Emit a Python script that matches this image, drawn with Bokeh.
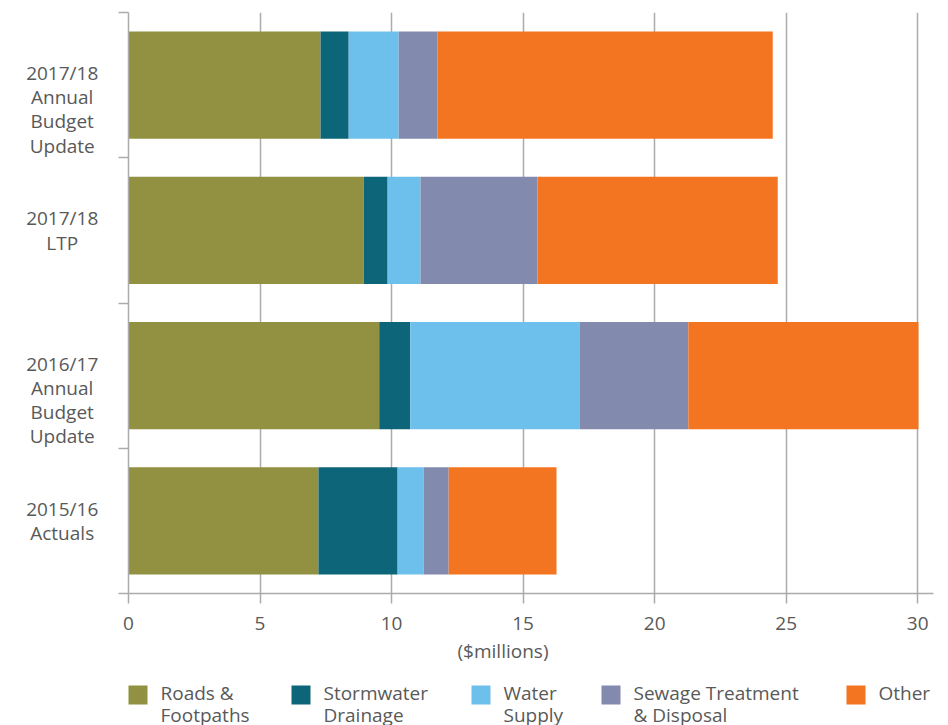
from bokeh.plotting import figure
from bokeh.layouts import row, column
from bokeh.models import ColumnDataSource, FixedTicker, Range1d, Title
from bokeh.core.properties import value
from bokeh.embed import file_html
from bokeh.resources import INLINE

# ---- data (top row first) ----
categories = ["2017/18\nAnnual\nBudget\nUpdate", "2017/18\nLTP",
              "2016/17\nAnnual\nBudget\nUpdate", "2015/16\nActuals"]
series_names = ["Roads &\nFootpaths", "Stormwater\nDrainage", "Water\nSupply",
                "Sewage Treatment\n& Disposal", "Other"]
roads = [7.30, 8.94, 9.53, 7.22]
stormwater = [1.07, 0.91, 1.18, 3.01]
water = [1.90, 1.25, 6.45, 0.99]
sewage = [1.48, 4.45, 4.12, 0.95]
other = [12.74, 9.13, 8.75, 4.10]
x_ticks = [0, 5, 10, 15, 20, 25, 30]
x_title = "($millions)"

# ---- styling / layout constants ----
colors = ["#929141", "#0c6579", "#6ec0ec", "#828aae", "#f47521"]
legend_x = [128, 291, 471, 601, 846]   # legend item left edges (px)
TXT = "#595959"
GRID = "#ababab"
FONT = "Open Sans"
FS = "19px"
LH = 0.93
MAIN_H = 672
LEG_H = 725 - MAIN_H

n = len(categories)
ypos = [n - i - 0.5 for i in range(n)]
keys = ["roads", "stormwater", "water", "sewage", "other"]
source = ColumnDataSource(dict(y=ypos, cat=categories, roads=roads, stormwater=stormwater,
                               water=water, sewage=sewage, other=other))
y_range = Range1d(0, n)

# ---- category label panel ----
lab = figure(width=118, height=MAIN_H, output_backend="svg", toolbar_location=None,
             x_range=Range1d(0, 1), y_range=y_range,
             x_axis_location=None, y_axis_location=None,
             min_border_left=0, min_border_right=0, min_border_top=12,
             min_border_bottom=MAIN_H - 593, outline_line_color=None)
lab.grid.visible = False
lab.text(x=0.523, y="y", text="cat", source=source, text_align="center",
         text_baseline="top", y_offset=-25, text_font=value(FONT), text_font_size=FS,
         text_color=TXT, text_line_height=LH)

# ---- main chart ----
p = figure(width=830, height=MAIN_H, output_backend="svg", toolbar_location=None,
           x_range=Range1d(0, 30.6), y_range=y_range,
           min_border_left=10, min_border_right=15, min_border_top=12,
           min_border_bottom=MAIN_H - 593, outline_line_color=None)

renderers = p.hbar_stack(keys, y="y", height=0.74, color=colors, source=source,
                         line_color=None)

p.xaxis.ticker = FixedTicker(ticks=x_ticks)
p.xaxis.axis_line_color = GRID
p.xaxis.axis_line_width = 1.5
p.xaxis.major_tick_line_color = GRID
p.xaxis.major_tick_line_width = 1.5
p.xaxis.major_tick_out = 10
p.xaxis.major_tick_in = 0
p.xaxis.minor_tick_line_color = None
p.xaxis.major_label_text_color = TXT
p.xaxis.major_label_text_font = FONT
p.xaxis.major_label_text_font_size = FS
p.xaxis.major_label_standoff = 13

p.yaxis.ticker = FixedTicker(ticks=list(range(n + 1)))
p.yaxis.axis_line_color = GRID
p.yaxis.axis_line_width = 1.5
p.yaxis.major_tick_line_color = GRID
p.yaxis.major_tick_line_width = 1.5
p.yaxis.major_tick_out = 10
p.yaxis.major_tick_in = 0
p.yaxis.minor_tick_line_color = None
p.yaxis.major_label_overrides = {i: "" for i in range(n + 1)}
p.yaxis.major_label_standoff = 0

p.xgrid.ticker = FixedTicker(ticks=x_ticks)
p.xgrid.grid_line_color = GRID
p.xgrid.grid_line_width = 1.5
p.ygrid.grid_line_color = None

t = Title(text=x_title, align="left", offset=329, text_font=FONT, text_font_size=FS,
          text_font_style="normal", text_color=TXT, standoff=6)
p.add_layout(t, "below")

# ---- legend panel (drawn from series names and colours) ----
leg = figure(width=948, height=LEG_H, output_backend="svg", toolbar_location=None,
             x_range=Range1d(0, 948), y_range=Range1d(LEG_H, 0),
             x_axis_location=None, y_axis_location=None,
             min_border=0, outline_line_color=None)
leg.grid.visible = False
leg_src = ColumnDataSource(dict(x=[v + 9.5 for v in legend_x],
                                tx=[v + 32 for v in legend_x],
                                name=series_names, color=colors))
leg.rect(x="x", y=22.5, width=19, height=19, fill_color="color", line_color=None,
         source=leg_src)
leg.text(x="tx", y=7.5, text="name", source=leg_src, text_align="left",
         text_baseline="top", text_font=value(FONT), text_font_size=FS,
         text_color=TXT, text_line_height=0.86)

layout = column(row(lab, p, spacing=0), leg, spacing=0)
open("out.html", "w").write(file_html(layout, INLINE))
